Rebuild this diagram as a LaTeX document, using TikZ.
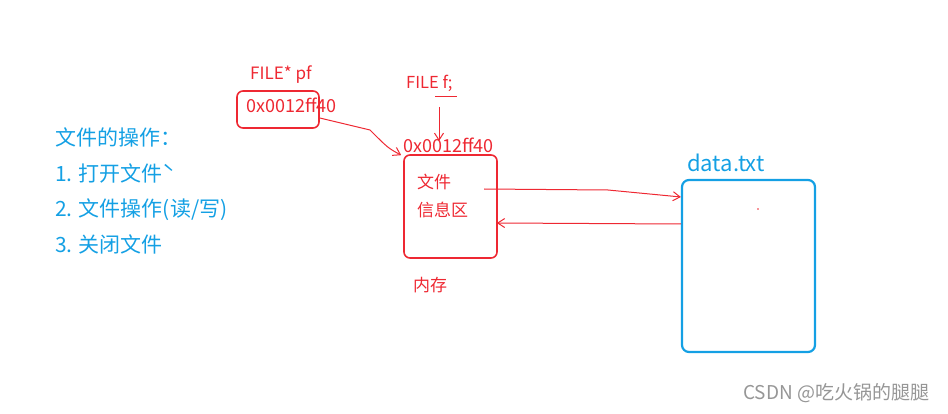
\documentclass[tikz,border=0pt]{standalone}
\usepackage{fontspec}
\setmainfont{Noto Sans CJK SC}
\usepackage{tikz}
\usetikzlibrary{arrows.meta, calc}
\definecolor{inkred}{RGB}{238,40,50}
\definecolor{inkblue}{RGB}{20,160,228}
\definecolor{markgray}{RGB}{150,150,150}

\begin{document}
\begin{tikzpicture}[x=1pt, y=-1pt, >={Straight Barb[length=7pt, width=9pt]},
  redtxt/.style={text=inkred, font=\fontsize{17}{20}\selectfont, inner sep=0pt, anchor=base west},
  bluetxt/.style={text=inkblue, font=\fontsize{21}{25}\selectfont, inner sep=0pt, anchor=base west},
  redbox/.style={draw=inkred, line width=1.6pt, rounded corners=6pt, inner sep=0pt},
  bluebox/.style={draw=inkblue, line width=2.2pt, rounded corners=7pt, inner sep=0pt},
  redline/.style={draw=inkred, line width=1pt}]
  \useasboundingbox (0,0) rectangle (948,414);

  % the steps, left side
  \node[bluetxt] (title) at (55,146) {文件的操作：};
  \node[bluetxt] (open) at (55,182) {1. 打开文件ˋ};
  \node[bluetxt] (rw) at (55,217) {2. 文件操作(读/写)};
  \node[bluetxt] (close) at (55,253) {3. 关闭文件};

  % the pointer pf
  \node[redtxt] (pfname) at (250,80) {FILE* pf};
  \node[redbox, minimum width=82pt, minimum height=37pt] (pfbox) at (278,109.5) {};
  \node[redtxt, font=\fontsize{18}{21}\selectfont] (pfval) at (246,113) {0x0012ff40};

  % the struct f in memory
  \node[redtxt, font=\fontsize{16.5}{19}\selectfont] (fname) at (406,89) {FILE f;};
  \coordinate (ulA) at (435,97);
  \coordinate (ulB) at (457,97);
  \draw[redline] (ulA) -- (ulB);
  \node[redtxt, font=\fontsize{18}{21}\selectfont] (faddr) at (403,153) {0x0012ff40};
  \node[redbox, minimum width=93pt, minimum height=103pt] (fbox) at (450.5,206.5) {};
  \node[redtxt] (finfoA) at (417,189) {文件};
  \node[redtxt] (finfoB) at (417,217) {信息区};
  \node[redtxt] (mem) at (413,291) {内存};

  % the file on disk
  \node[bluetxt, font=\fontsize{22}{26}\selectfont] (dname) at (687,172) {data.txt};
  \node[bluebox, minimum width=133pt, minimum height=172pt] (dbox) at (748.5,266) {};
  \fill[inkred] (758,209) circle (0.8pt);

  % connectors
  \coordinate (pfbend) at (370,130);
  \draw[redline, ->] ([yshift=-8.5pt]pfbox.east) -- (pfbend)
    .. controls (388,148) .. ([shift={(-2pt,-1pt)}]fbox.north west);
  \coordinate (ftop) at (439,107);
  \draw[redline, ->] (ftop) -- (439,141);
  \coordinate (wrstart) at (484,189);
  \coordinate (wrbend) at (608,190);
  \draw[redline, ->] (wrstart) -- (wrbend) -- ([yshift=69pt]dbox.west);
  \draw[redline, ->] ([yshift=42pt]dbox.west) -- ([xshift=-1pt, yshift=-16.5pt]fbox.east);

  % watermark
  \node[anchor=base west, inner sep=0pt, text=markgray, font=\fontsize{19}{22}\selectfont] (mark) at (743,399) {CSDN @吃火锅的腿腿};
\end{tikzpicture}
\end{document}
